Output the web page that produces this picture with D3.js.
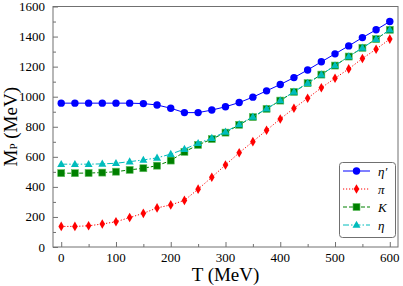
<!DOCTYPE html>
<html>
<head>
<meta charset="utf-8">
<script src="https://cdn.jsdelivr.net/npm/d3@7"></script>
<style>
  body { margin: 0; background: #fff; }
  svg { display: block; }
</style>
</head>
<body>
<svg id="chart"></svg>
<script>
// meson masses vs temperature

const WIDTH = 403;
const HEIGHT = 286;

// data
const temps = [0, 25, 50, 75, 100, 125, 150, 175, 200, 225, 250, 275, 300,
  325, 350, 375, 400, 425, 450, 475, 500, 525, 550, 575, 600];
const etaPrime = [957, 957, 957, 957, 957, 957, 954, 945, 923, 894, 894, 911, 933,
  961, 997, 1039, 1081, 1127, 1178, 1232, 1285, 1338, 1393, 1445, 1500];
const pion = [137, 137, 141, 153, 168, 196, 224, 260, 280, 310, 385, 464, 546,
  627, 701, 777, 852, 923, 990, 1059, 1123, 1185, 1254, 1316, 1383];
const kaon = [491, 491, 492, 495, 501, 513, 524, 541, 575, 633, 679, 718, 761,
  813, 864, 919, 974, 1032, 1090, 1147, 1207, 1267, 1325, 1383, 1445];
const eta = [551, 551, 551, 553, 557, 568, 579, 593, 618, 651, 690, 724, 766,
  816, 866, 920, 975, 1032, 1090, 1147, 1207, 1267, 1325, 1383, 1445];

const xTicks = [0, 100, 200, 300, 400, 500, 600];
const yTicks = [0, 200, 400, 600, 800, 1000, 1200, 1400, 1600];

const seriesNames = ["η′", "π", "K", "η"];

const series = [
  { name: seriesNames[0], values: etaPrime, color: "#0000ff", dash: null, marker: "circle" },
  { name: seriesNames[1], values: pion, color: "#ff0000", dash: "1.2,1.8", marker: "diamond" },
  { name: seriesNames[2], values: kaon, color: "#008000", dash: "4,2", marker: "square" },
  { name: seriesNames[3], values: eta, color: "#00bcbc", dash: "6,2,1.5,2", marker: "triangle" },
];

const plot = { left: 53, right: 398, top: 6.5, bottom: 247 };
const axisColor = "#707070";
const font = "Liberation Serif, DejaVu Serif, serif";

const x = d3.scaleLinear().domain([-15, 615]).range([plot.left, plot.right]);
const y = d3.scaleLinear().domain([0, 1600]).range([plot.bottom, plot.top]);

const svg = d3.select("#chart")
  .attr("width", WIDTH)
  .attr("height", HEIGHT)
  .attr("viewBox", `0 0 ${WIDTH} ${HEIGHT}`)
  .attr("font-family", font);

// frame
svg.append("rect")
  .attr("x", plot.left)
  .attr("y", plot.top)
  .attr("width", plot.right - plot.left)
  .attr("height", plot.bottom - plot.top)
  .attr("fill", "none")
  .attr("stroke", axisColor)
  .attr("stroke-width", 1);

// x axis, inward ticks
const xAxisG = svg.append("g")
  .attr("transform", `translate(0,${plot.bottom})`);
xAxisG.call(d3.axisBottom(x).tickValues(d3.range(0, 601, 50)).tickSize(0).tickFormat(""))
  .call(g => g.select(".domain").remove())
  .call(g => g.selectAll(".tick line")
    .attr("y2", d => d % 100 === 0 ? -5 : -3)
    .attr("stroke", axisColor));
svg.append("g")
  .selectAll("text")
  .data(xTicks)
  .join("text")
    .attr("x", x)
    .attr("y", 261.5)
    .attr("text-anchor", "middle")
    .attr("font-family", font)
    .attr("font-size", 13)
    .text(d => d);

// y axis, inward ticks
const yAxisG = svg.append("g")
  .attr("transform", `translate(${plot.left},0)`);
yAxisG.call(d3.axisLeft(y).tickValues(d3.range(0, 1601, 100)).tickSize(0).tickFormat(""))
  .call(g => g.select(".domain").remove())
  .call(g => g.selectAll(".tick line")
    .attr("x2", d => d % 200 === 0 ? 5 : 3)
    .attr("stroke", axisColor));
svg.append("g")
  .selectAll("text")
  .data(yTicks)
  .join("text")
    .attr("x", 45)
    .attr("y", y)
    .attr("dy", "0.35em")
    .attr("text-anchor", "end")
    .attr("font-family", font)
    .attr("font-size", 13)
    .text(d => d);

// axis titles
svg.append("text")
  .attr("x", (plot.left + plot.right) / 2)
  .attr("y", 281)
  .attr("text-anchor", "middle")
  .attr("font-family", font)
  .attr("font-size", 19)
  .text("T (MeV)");

const yTitle = svg.append("text")
  .attr("transform", `translate(16.5,${(plot.top + plot.bottom) / 2}) rotate(-90)`)
  .attr("text-anchor", "middle")
  .attr("font-family", font)
  .attr("font-size", 19);
yTitle.append("tspan").text("M");
yTitle.append("tspan").attr("font-size", 11).attr("dy", 0.5).text("P");
yTitle.append("tspan").attr("dy", -0.5).text(" (MeV)");

// marker shapes
function drawMarker(g, type, color) {
  if (type === "circle") {
    g.append("circle").attr("r", 3.7).attr("fill", color);
  } else if (type === "diamond") {
    g.append("path").attr("d", "M0,-4.8L2.8,0L0,4.8L-2.8,0Z").attr("fill", color);
  } else if (type === "square") {
    g.append("rect").attr("x", -3.5).attr("y", -3.5).attr("width", 7).attr("height", 7)
      .attr("fill", color).attr("stroke", "#5fbf5f").attr("stroke-width", 0.6);
  } else if (type === "triangle") {
    g.append("path").attr("d", "M0,-4.3L4,2.8L-4,2.8Z").attr("fill", color);
  }
}

const line = d3.line()
  .x((d, i) => x(temps[i]))
  .y(d => y(d));

series.forEach(s => {
  const g = svg.append("g");
  g.append("path")
    .datum(s.values)
    .attr("d", line)
    .attr("fill", "none")
    .attr("stroke", s.color)
    .attr("stroke-width", 1)
    .attr("stroke-dasharray", s.dash);
  g.selectAll("g")
    .data(s.values)
    .join("g")
      .attr("transform", (d, i) => `translate(${x(temps[i])},${y(d)})`)
      .each(function () { drawMarker(d3.select(this), s.marker, s.color); });
});

// legend
const legend = svg.append("g");
legend.append("rect")
  .attr("x", 339.5)
  .attr("y", 162.5)
  .attr("width", 56)
  .attr("height", 75)
  .attr("rx", 3)
  .attr("fill", "#fff")
  .attr("stroke", axisColor)
  .attr("stroke-width", 1);

const legendY = d3.scalePoint().domain(seriesNames).range([171, 225]);

series.forEach(s => {
  const row = legend.append("g")
    .attr("transform", `translate(0,${legendY(s.name)})`);
  row.append("line")
    .attr("x1", 343)
    .attr("x2", 370)
    .attr("stroke", s.color)
    .attr("stroke-width", 1)
    .attr("stroke-dasharray", s.dash);
  drawMarker(row.append("g").attr("transform", "translate(356.5,0)"), s.marker, s.color);
  row.append("text")
    .attr("x", 378)
    .attr("dy", "0.35em")
    .attr("font-family", font)
    .attr("font-style", "italic")
    .attr("font-size", 13)
    .text(s.name);
});
</script>
</body>
</html>
